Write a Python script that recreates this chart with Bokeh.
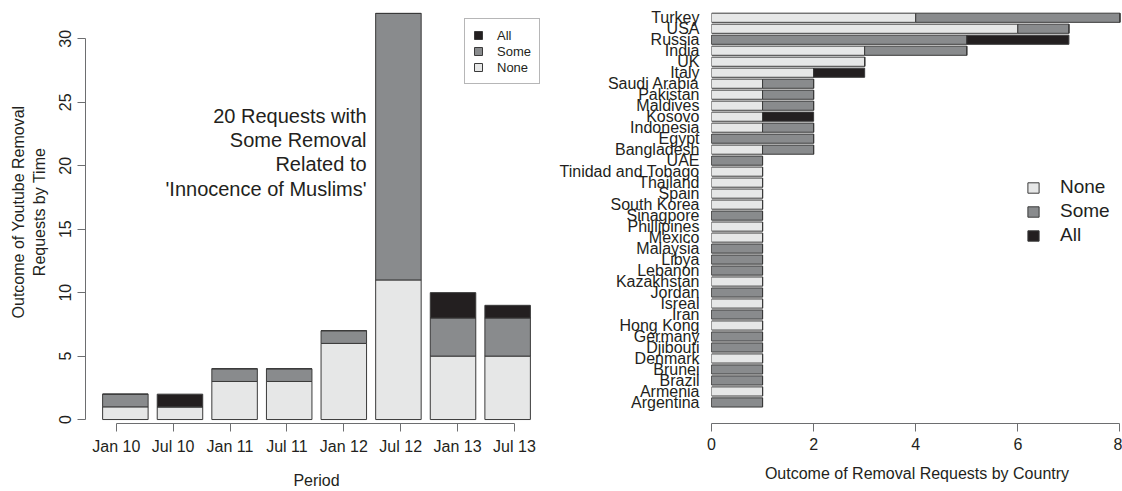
from bokeh.plotting import figure
from bokeh.models import ColumnDataSource, FixedTicker, Range1d, Legend, LegendItem, Label
from bokeh.layouts import row
from bokeh.embed import file_html
from bokeh.resources import INLINE

# ---------------- data ----------------
periods = ["Jan 10", "Jul 10", "Jan 11", "Jul 11", "Jan 12", "Jul 12", "Jan 13", "Jul 13"]
time_none = [1, 1, 3, 3, 6, 11, 5, 5]
time_some = [1, 0, 1, 1, 1, 21, 3, 3]
time_all = [0, 1, 0, 0, 0, 0, 2, 1]

countries = ["Turkey", "USA", "Russia", "India", "UK", "Italy", "Saudi Arabia", "Pakistan",
             "Maldives", "Kosovo", "Indonesia", "Egypt", "Bangladesh", "UAE",
             "Tinidad and Tobago", "Thailand", "Spain", "South Korea", "Sinagpore",
             "Phillipines", "Mexico", "Malaysia", "Libya", "Lebanon", "Kazakhstan",
             "Jordan", "Isreal", "Iran", "Hong Kong", "Germany", "Djibouti", "Denmark",
             "Brunei", "Brazil", "Armenia", "Argentina"]
country_none = [4, 6, 0, 3, 3, 2, 1, 1, 1, 1, 1, 0, 1, 0, 1, 1, 1, 1, 0, 1, 1, 0, 0, 0, 1,
                0, 1, 0, 1, 0, 0, 1, 0, 0, 1, 0]
country_some = [4, 1, 5, 2, 0, 0, 1, 1, 1, 0, 1, 2, 1, 1, 0, 0, 0, 0, 1, 0, 0, 1, 1, 1, 0,
                1, 0, 1, 0, 1, 1, 0, 1, 1, 0, 1]
country_all = [0, 0, 2, 0, 0, 1, 0, 0, 0, 1, 0, 0, 0, 0, 0, 0, 0, 0, 0, 0, 0, 0, 0, 0, 0,
               0, 0, 0, 0, 0, 0, 0, 0, 0, 0, 0]

y_ticks_left = [0, 5, 10, 15, 20, 25, 30]
x_ticks_right = [0, 2, 4, 6, 8]
annotation = ["20 Requests with", "Some Removal", "Related to", "'Innocence of Muslims'"]

# ---------------- style ----------------
FONT = "Liberation Sans"
TXT = "#231f20"
AXC = "#6d6e70"
C_NONE = "#e6e7e7"
C_SOME = "#898b8d"
C_ALL = "#231f20"
EDGE = "#3a3a3a"
colors = [C_NONE, C_SOME, C_ALL]
stack_keys = ["None", "Some", "All"]


def style_axis(ax):
    ax.axis_line_color = AXC
    ax.major_tick_line_color = AXC
    ax.minor_tick_line_color = None
    ax.major_tick_out = 8
    ax.major_tick_in = 0
    ax.major_label_text_font = FONT
    ax.major_label_text_font_size = "16px"
    ax.major_label_text_color = TXT
    ax.axis_label_text_font = FONT
    ax.axis_label_text_font_size = "16px"
    ax.axis_label_text_color = TXT
    ax.axis_label_text_font_style = "normal"


# ---------------- left chart ----------------
p1 = figure(width=556, height=491, x_range=Range1d(-0.176, 9.976), y_range=Range1d(-0.312, 33.02),
            output_backend="svg", toolbar_location=None,
            min_border_left=85, min_border_right=9, min_border_top=0, min_border_bottom=64)
p1.grid.visible = False
p1.outline_line_color = None

src1 = ColumnDataSource(dict(x=[0.7 + 1.2 * i for i in range(len(periods))],
                             Some=time_some, All=time_all))
src1.data["None"] = time_none
r1 = p1.vbar_stack(stack_keys, x="x", width=1.0, source=src1,
                   fill_color=colors, line_color=EDGE, line_width=1)

ticks1 = [0.5 + 1.25 * i for i in range(len(periods))]
p1.xaxis.ticker = FixedTicker(ticks=ticks1)
p1.xaxis.major_label_overrides = {t: lab for t, lab in zip(ticks1, periods)}
p1.xaxis.bounds = (ticks1[0], ticks1[-1])
p1.xaxis.axis_label = "Period"
p1.yaxis.ticker = FixedTicker(ticks=y_ticks_left)
p1.yaxis.bounds = (0, 30)
p1.yaxis.major_label_orientation = "vertical"
p1.yaxis.axis_label = "Outcome of Youtube Removal\nRequests by Time"
for ax in (p1.xaxis[0], p1.yaxis[0]):
    style_axis(ax)
p1.xaxis.major_label_standoff = 6
p1.xaxis.axis_label_standoff = 14
p1.yaxis.major_label_standoff = 6
p1.yaxis.axis_label_standoff = 9

for i, t in enumerate(annotation):
    p1.add_layout(Label(x=6.0, y=23.9 - 1.9 * i, text=t, text_align="right",
                        text_baseline="middle", text_font=FONT, text_font_size="20px",
                        text_color=TXT))

leg1 = Legend(items=[LegendItem(label="All", renderers=[r1[2]]),
                     LegendItem(label="Some", renderers=[r1[1]]),
                     LegendItem(label="None", renderers=[r1[0]])],
              location=(379, 339), glyph_width=10, glyph_height=10, label_height=16,
              label_standoff=14, padding=8, spacing=0, margin=0,
              label_text_font=FONT, label_text_font_size="13px", label_text_color=TXT,
              border_line_color=AXC, border_line_width=1, background_fill_color="white")
p1.add_layout(leg1)

# ---------------- right chart ----------------
n = len(countries)
p2 = figure(width=566, height=491, x_range=Range1d(0, 8.05), y_range=Range1d(-1.915, 36.57),
            output_backend="svg", toolbar_location=None,
            min_border_left=153, min_border_right=0, min_border_top=0, min_border_bottom=63)
p2.grid.visible = False
p2.outline_line_color = None

src2 = ColumnDataSource(dict(y=[n - 1 - i for i in range(n)],
                             Some=country_some, All=country_all))
src2.data["None"] = country_none
r2 = p2.hbar_stack(stack_keys, y="y", height=1 / 1.2, source=src2,
                   fill_color=colors, line_color=EDGE, line_width=1)

p2.xaxis.ticker = FixedTicker(ticks=x_ticks_right)
p2.xaxis.bounds = (0, 8)
p2.xaxis.axis_label = "Outcome of Removal Requests by Country"
p2.yaxis.ticker = FixedTicker(ticks=[n - 1 - i for i in range(n)])
p2.yaxis.major_label_overrides = {n - 1 - i: c for i, c in enumerate(countries)}
for ax in (p2.xaxis[0], p2.yaxis[0]):
    style_axis(ax)
p2.xaxis.major_label_standoff = 6
p2.xaxis.axis_label_standoff = 12
p2.yaxis.axis_line_color = None
p2.yaxis.major_tick_line_color = None
p2.yaxis.major_tick_out = 0
p2.yaxis.major_label_standoff = 12

leg2 = Legend(items=[LegendItem(label="None", renderers=[r2[0]]),
                     LegendItem(label="Some", renderers=[r2[1]]),
                     LegendItem(label="All", renderers=[r2[2]])],
              location=(315, 176), glyph_width=14, glyph_height=13, label_height=24,
              label_standoff=20, padding=0, spacing=0, margin=0,
              label_text_font=FONT, label_text_font_size="19px", label_text_color=TXT,
              border_line_color=None, background_fill_alpha=0)
p2.add_layout(leg2)

layout = row(p1, p2)
open("out.html", "w").write(file_html(layout, INLINE))
